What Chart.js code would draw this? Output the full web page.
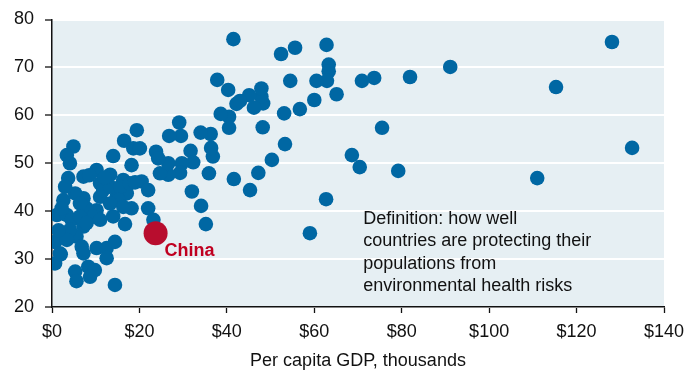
<!DOCTYPE html>
<html>
<head>
<meta charset="utf-8">
<script src="https://cdn.jsdelivr.net/npm/chart.js@4"></script>
<style>
html,body{margin:0;padding:0;background:#fff;}
#wrap{width:688px;height:373px;position:relative;}
</style>
</head>
<body>
<div id="wrap"><canvas id="c" width="688" height="373"></canvas></div>
<script>
// Per capita GDP (thousands) and environmental health score
const gdp = [128.1,115.3,132.7,111.0,91.1,81.9,73.7,70.9,75.5,68.6,70.4,79.2,62.7,59.0,
  41.5,52.4,55.6,62.8,63.3,63.3,62.9,65.1,60.5,60.0,56.7,54.5,53.1,53.3,50.3,47.2,45.3,41.6,
  48.2,48.3,47.9,47.9,46.2,45.1,42.2,40.5,38.6,40.5,37.8,40.3,35.9,36.8,36.4,36.3,34.0,32.0,
  34.1,35.2,31.7,32.3,29.7,29.1,29.5,26.8,29.3,26.6,24.7,26.6,23.8,24.3,22.0,23.2,43.0,
  19.4,16.5,18.6,20.1,18.2,14.0,4.9,3.4,4.1,3.7,7.2,10.2,13.3,16.3,20.5,22.0,18.2,16.7,14.0,
  14.8,17.1,11.0,10.2,7.9,7.2,5.3,3.0,2.6,1.1,3.4,4.5,7.2,5.6,6.8,7.2,3.0,0.7,1.8,0.7,10.2,
  12.5,12.5,14.4,5.3,5.6,8.3,9.8,8.7,14.4,2.2,6.4,9.5,11.0,6.4,4.1,3.4,11.0,11.7,13.3,15.6,
  17.8,15.2,13.3,16.3,7.9,8.5,12.0,19.0,1.5,2.0];
const score = [75.3,65.9,53.2,46.9,70.1,68.0,67.8,67.2,57.4,51.7,49.2,48.4,42.5,35.4,
  75.9,72.8,74.1,74.7,70.6,69.2,67.2,64.4,67.2,63.2,61.3,67.2,60.4,54.0,50.7,48.0,44.4,46.7,
  57.5,62.5,63.9,65.6,61.6,64.2,62.4,59.7,60.3,57.4,67.4,65.3,47.9,51.4,53.2,56.1,56.4,44.1,
  41.1,37.3,52.6,50.2,50.0,58.5,55.7,55.7,48.0,47.6,47.9,50.0,52.4,51.0,40.6,38.2,63.0,
  56.9,54.7,53.1,53.1,49.6,51.5,53.5,51.7,50.0,46.9,47.2,48.6,47.6,46.5,46.2,44.4,40.6,37.3,38.9,
  43.0,43.7,43.0,40.2,40.6,42.7,43.7,45.1,42.3,39.2,39.2,38.2,36.8,34.7,32.6,31.2,35.4,33.6,31.2,29.1,32.3,
  32.3,30.2,33.6,27.4,25.4,28.4,27.7,26.3,24.6,40.6,41.6,38.9,38.2,38.9,36.1,34.0,45.8,44.4,45.1,45.1,
  45.8,42.3,41.6,40.9,37.5,47.5,47.0,46.0,36.0,31.0];
const chinaGdp = [23.7];
const chinaScore = [35.4];
const xTicks = [0,20,40,60,80,100,120,140];
const yTicks = [20,30,40,50,60,70,80];
const noteLines = ['Definition: how well','countries are protecting their','populations from','environmental health risks'];
const noteAt = {x: 71.2, y: 38.6};

const FONT = '"Liberation Sans", Arial, sans-serif';
const pts = gdp.map((v,i)=>({x:v,y:score[i]}));
const china = chinaGdp.map((v,i)=>({x:v,y:chinaScore[i]}));

const bgPlugin = {
  id:'bg',
  beforeDraw(chart){
    const {ctx, chartArea:a} = chart;
    ctx.save();
    ctx.fillStyle = '#e6eff3';
    ctx.fillRect(a.left, a.top, a.right-a.left, a.bottom-a.top);
    ctx.restore();
  }
};
const labelPlugin = {
  id:'labels',
  afterDatasetsDraw(chart){
    const {ctx, scales:{x,y}} = chart;
    ctx.save();
    const cx = x.getPixelForValue(chinaGdp[0]);
    const cy = y.getPixelForValue(chinaScore[0]);
    ctx.font = 'bold 18px ' + FONT;
    ctx.fillStyle = '#c00020';
    ctx.textBaseline = 'alphabetic';
    ctx.textAlign = 'left';
    ctx.fillText('China', cx + 9, cy + 23);
    ctx.font = '18px ' + FONT;
    ctx.fillStyle = '#111';
    ctx.textBaseline = 'middle';
    const nx = x.getPixelForValue(noteAt.x);
    const ny = y.getPixelForValue(noteAt.y);
    noteLines.forEach((t,i)=>ctx.fillText(t, nx, ny + 1 + i*22.5));
    ctx.restore();
  }
};

new Chart(document.getElementById('c'), {
  type:'scatter',
  data:{datasets:[
    {data:china, backgroundColor:'#b80d2e', pointRadius:12, borderWidth:0},
    {data:pts, backgroundColor:'#0067a3', pointRadius:7.3, borderWidth:0}
  ]},
  options:{
    responsive:false, animation:false,
    layout:{padding:{top:19.5, right:24, left:0, bottom:0}},
    plugins:{legend:{display:false}, tooltip:{enabled:false}},
    scales:{
      x:{
        type:'linear', min:0, max:140,
        afterBuildTicks(s){ s.ticks = xTicks.map(v=>({value:v})); },
        afterFit(s){ s.height = 66; s.paddingLeft = 0; s.paddingRight = 0; },
        ticks:{font:{size:18, family:FONT}, color:'#111', padding:8, maxRotation:0,
          callback:v=>'$'+v},
        grid:{drawOnChartArea:false, drawTicks:true, tickLength:6, tickColor:'#111', tickWidth:1.3},
        border:{color:'#111', width:1.5},
        title:{display:true, text:'Per capita GDP, thousands', font:{size:18, family:FONT}, color:'#111', padding:{top:4,bottom:1}}
      },
      y:{
        type:'linear', min:20, max:80,
        afterBuildTicks(s){ s.ticks = yTicks.map(v=>({value:v})); },
        afterFit(s){ s.width = 52; s.paddingTop = 0; s.paddingBottom = 0; },
        ticks:{font:{size:18, family:FONT}, color:'#111', padding:11},
        grid:{color:'#ffffff', lineWidth:2, drawTicks:true, tickLength:7, tickColor:'#111', tickWidth:1.3},
        border:{color:'#111', width:1.5}
      }
    }
  },
  plugins:[bgPlugin, labelPlugin]
});
</script>
</body>
</html>
